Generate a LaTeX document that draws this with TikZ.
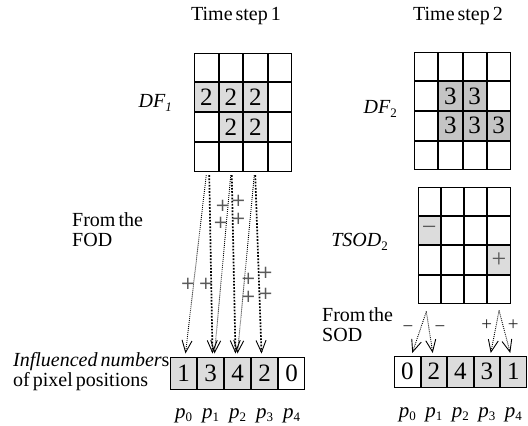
\documentclass[tikz,border=0pt]{standalone}
\usepackage{fontspec}
\setmainfont{Liberation Serif}[WordSpace=0.6]
\newfontfamily\signfont{DejaVu Sans}
\usetikzlibrary{matrix,arrows.meta,calc}

\definecolor{cellgrey}{HTML}{DCDCDC}
\definecolor{darkgrey}{HTML}{C4C4C4}
\definecolor{signgrey}{HTML}{5A5A5A}

\newcommand\setfs[1]{\fontsize{#1}{#1}\selectfont}

\tikzset{
  gridcell/.style={draw, line width=1pt, inner sep=0pt, outer sep=0pt,
    anchor=center, font=\setfs{25}},
  cellgrid/.style={matrix of nodes, nodes in empty cells, inner sep=0pt,
    outer sep=0pt, column sep=0pt, row sep=0pt, anchor=north west},
  lit/.style={fill=cellgrey},
  dark/.style={fill=darkgrey},
  sign/.style={fill=cellgrey, text=signgrey, font=\setfs{26}},
  heading/.style={font=\setfs{20}, inner sep=0pt, anchor=base},
  tag/.style={font=\setfs{20}\itshape, inner sep=0pt, anchor=base east},
  note/.style={inner sep=0pt, anchor=base west, align=left},
  plus/.style={inner sep=0pt, text=signgrey, font=\signfont\setfs{18}},
  pm/.style={inner sep=0pt, text=black!85, font=\setfs{19}},
  plabel/.style={inner sep=0pt, anchor=base},
  vtip/.style={-{Straight Barb[length=12pt,width=10pt,line width=0.9pt]}},
  fodthick/.style={vtip, line width=1.7pt, dash pattern=on 1.7pt off 1.5pt},
  fodthin/.style={vtip, line width=0.9pt, dash pattern=on 0.9pt off 1.1pt},
}

\newcommand\plab[1]{{\setfs{21}\itshape p}\raisebox{-3pt}{\setfs{13}#1}}

\begin{document}
\begin{tikzpicture}[x=1pt,y=-1pt]
\useasboundingbox (0,0) rectangle (528,426);

% column headings
\node[heading] (ts1) at (236,20) {Time step 1};
\node[heading] (ts2) at (458,20) {Time step 2};

% first-order difference frame of time step 1
\matrix[cellgrid, nodes={gridcell, minimum width=23.5pt, minimum height=28.75pt}]
  (DF1) at (194,52.7) {
  & & & \\
  |[lit]| 2 & |[lit]| 2 & |[lit]| 2 & \\
  & |[lit]| 2 & |[lit]| 2 & \\
  & & & \\
};
\node[tag] (df1lab) at (172,107) {DF\raisebox{-4pt}{\setfs{13}1}};

% first-order difference frame of time step 2
\matrix[cellgrid, nodes={gridcell, minimum width=23.1pt, minimum height=28.6pt}]
  (DF2) at (414.3,51.7) {
  & & & \\
  & |[dark]| 3 & |[dark]| 3 & \\
  & |[dark]| 3 & |[dark]| 3 & |[dark]| 3 \\
  & & & \\
};
\node[tag] (df2lab) at (397,113) {DF\raisebox{-4pt}{\setfs{13}\upshape 2}};

% temporal second-order difference of time step 2
\matrix[cellgrid, nodes={gridcell, minimum width=22.25pt, minimum height=28.4pt}]
  (T) at (417.7,186.5) {
  & & & \\
  |[sign]| \textminus & & & \\
  & & & |[sign]| + \\
  & & & \\
};
\node[tag] (tsodlab) at (388,246) {TSOD\raisebox{-4pt}{\setfs{13}\upshape 2}};

% influenced numbers of the pixel positions
\matrix[cellgrid, nodes={gridcell, minimum width=26pt, minimum height=32pt}]
  (L) at (170,357) {
  |[lit]| 1 & |[lit]| 3 & |[lit]| 4 & |[lit]| 2 & 0 \\
};
\matrix[cellgrid, nodes={gridcell, minimum width=25.5pt, minimum height=31pt}]
  (R) at (394,355.5) {
  0 & |[lit]| 2 & |[lit]| 4 & |[lit]| 3 & |[lit]| 1 \\
};

% pixel position labels
\foreach \k [evaluate=\k as \i using int(\k-1)] in {1,...,5} {
  \node[plabel] (pl\i) at ($(L-1-\k.south)+(0,29)$) {\plab{\i}};
  \node[plabel] (pr\i) at ($(R-1-\k.south)+(0,30)$) {\plab{\i}};
}

% side notes (anchored on the baseline of their last line)
\node[note, font=\fontsize{20}{15.5}\selectfont] (infl) at (13,386.2)
  {{\itshape Influenced number}s\\of pixel positions};
\node[note, font=\fontsize{20}{19.5}\selectfont] (fod) at (72,246.2) {From the\\FOD};
\node[note, font=\fontsize{20}{20}\selectfont] (sod) at (322,341) {From the\\SOD};

% contributions from the first-order difference
\draw[fodthick] ($(DF1-4-1.south)+(3,4)$) -- ($(L-1-2.north)+(2,-4)$);
\draw[fodthin]  ($(DF1-4-1.south)+(0,4)$) -- ($(L-1-1.north)+(2,-4)$);
\draw[fodthick] ($(DF1-4-2.south)+(1,4)$) -- ($(L-1-3.north)+(-2,-4)$);
\draw[fodthin]  ($(DF1-4-2.south)+(0,4)$) -- ($(L-1-2.north)+(4,-4)$);
\draw[fodthick] ($(DF1-4-3.south)+(0,4)$) -- ($(L-1-4.north)+(-3,-4)$);
\draw[fodthin]  ($(DF1-4-3.south)+(-1,4)$) -- ($(L-1-3.north)+(0,-4)$);

% plus signs along the first-order paths
\node[plus] (pa1) at (222.7,206) {+};
\node[plus] (pa2) at (238.3,201) {+};
\node[plus] (pa3) at (220.7,223) {+};
\node[plus] (pa4) at (238.3,219) {+};
\node[plus] (pb1) at (188,284) {+};
\node[plus] (pb2) at (206,284) {+};
\node[plus] (pc1) at (248.3,279) {+};
\node[plus] (pc2) at (265.7,273) {+};
\node[plus] (pc3) at (248.3,297) {+};
\node[plus] (pc4) at (265.7,294) {+};

% contributions from the second-order difference
\coordinate (apexA) at ($(T-4-1.south)+(-3,8)$);
\coordinate (apexB) at ($(T-4-4.south)+(0,7)$);
\draw[fodthin] (apexA) -- ($(R-1-1.north)+(5,-3)$);
\draw[fodthin] (apexA) -- ($(R-1-2.north)+(-1,-3)$);
\draw[fodthin] (apexB) -- ($(R-1-4.north)+(4,-3)$);
\draw[fodthin] (apexB) -- ($(R-1-5.north)+(-3,-3)$);
\node[pm] (ma) at (408,329) {\textminus};
\node[pm] (mb) at (440,329) {\textminus};
\node[pm] (pp1) at (486.7,325) {+};
\node[pm] (pp2) at (513.3,325) {+};
\end{tikzpicture}
\end{document}
